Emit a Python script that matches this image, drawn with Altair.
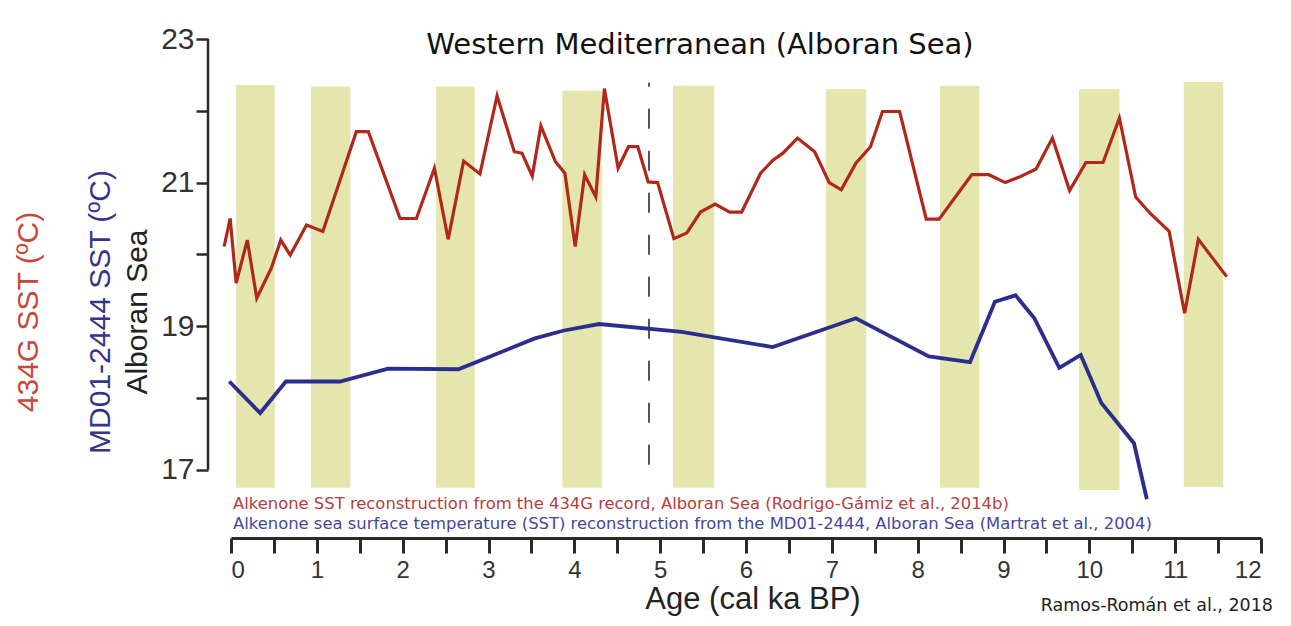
import altair as alt
import pandas as pd

# ---- data ----
red_age = [-0.08, -0.01, 0.06, 0.19, 0.30, 0.47, 0.58, 0.69, 0.88, 1.07, 1.46, 1.60, 1.97, 2.16,
           2.37, 2.53, 2.71, 2.90, 3.10, 3.30, 3.39, 3.51, 3.61, 3.78, 3.89, 4.01, 4.12, 4.25,
           4.35, 4.51, 4.63, 4.74, 4.86, 4.97, 5.16, 5.31, 5.47, 5.64, 5.81, 5.95, 6.17, 6.31,
           6.43, 6.60, 6.80, 6.97, 7.11, 7.28, 7.45, 7.59, 7.79, 8.10, 8.25, 8.63, 8.83, 9.02,
           9.19, 9.38, 9.57, 9.77, 9.96, 10.16, 10.35, 10.54, 10.71, 10.93, 11.11, 11.27, 11.60]
red_sst = [20.11, 20.50, 19.60, 20.20, 19.39, 19.81, 20.20, 19.99, 20.41, 20.32, 21.71, 21.71, 20.50, 20.50,
           21.20, 20.21, 21.30, 21.12, 22.21, 21.43, 21.41, 21.09, 21.79, 21.29, 21.13, 20.11, 21.11, 20.80,
           22.31, 21.20, 21.50, 21.50, 21.01, 21.00, 20.22, 20.30, 20.59, 20.70, 20.59, 20.59, 21.13, 21.31,
           21.41, 21.62, 21.43, 21.00, 20.90, 21.27, 21.50, 21.99, 21.99, 20.49, 20.49, 21.11, 21.11, 21.00,
           21.08, 21.19, 21.62, 20.89, 21.28, 21.28, 21.90, 20.80, 20.57, 20.32, 19.18, 20.21, 19.69]

blue_age = [-0.02, 0.34, 0.64, 1.27, 1.83, 2.65, 3.54, 3.88, 4.29, 5.25, 6.31, 7.28, 8.13, 8.61,
            8.90, 9.14, 9.36, 9.65, 9.90, 10.14, 10.52, 10.67]
blue_sst = [18.23, 17.79, 18.23, 18.23, 18.41, 18.40, 18.83, 18.94, 19.03, 18.92, 18.71, 19.11, 18.58, 18.50,
            19.34, 19.43, 19.11, 18.42, 18.60, 17.93, 17.37, 16.59]

band_start = [0.06, 0.93, 2.39, 3.86, 5.15, 6.93, 8.26, 9.88, 11.10]
band_end = [0.51, 1.39, 2.84, 4.32, 5.63, 7.40, 8.72, 10.35, 11.56]
band_top = [22.36, 22.34, 22.34, 22.28, 22.35, 22.30, 22.35, 22.30, 22.40]
band_bottom = [16.75, 16.75, 16.75, 16.75, 16.75, 16.75, 16.75, 16.72, 16.76]

dash_age = [4.87]
dash_top = [22.39]
dash_bottom = [17.07]

x_ticks = [i * 0.5 for i in range(25)]
y_ticks = [17, 18, 19, 20, 21, 22, 23]

title_text = "Western Mediterranean (Alboran Sea)"
x_title = "Age (cal ka BP)"
red_label = "434G SST (ºC)"
blue_label = "MD01-2444 SST (ºC)"
site_label = "Alboran Sea"
red_legend = "Alkenone SST reconstruction from the 434G record, Alboran Sea (Rodrigo-Gámiz et al., 2014b)"
blue_legend = "Alkenone sea surface temperature (SST) reconstruction from the MD01-2444, Alboran Sea (Martrat et al., 2004)"
credit = "Ramos-Román et al., 2018"

# ---- tables ----
red_df = pd.DataFrame({"age": red_age, "sst": red_sst})
blue_df = pd.DataFrame({"age": blue_age, "sst": blue_sst})
band_df = pd.DataFrame({"age": band_start, "age2": band_end, "sst": band_bottom, "sst2": band_top})
dash_df = pd.DataFrame({"age": dash_age, "sst": dash_bottom, "sst2": dash_top})

AX = "#2a2a2a"
xs = alt.Scale(domain=[0, 12], nice=False, zero=False)
ys = alt.Scale(domain=[16.05, 23], nice=False, zero=False)
xaxis = alt.Axis(values=x_ticks, title=None, grid=False, domainColor=AX, domainWidth=3,
                 tickColor=AX, tickWidth=3, tickSize=15, labelFont="Liberation Sans",
                 labelFontSize=24, labelColor="#333", labelPadding=5,
                 labelExpr="datum.value % 1 == 0 ? format(datum.value, 'd') : ''")
yaxis = alt.Axis(values=y_ticks, title=None, grid=False, domain=False, offset=23,
                 tickColor=AX, tickWidth=2.5, tickSize=12, labelFont="Liberation Sans",
                 labelFontSize=30, labelColor="#333", labelPadding=2,
                 labelExpr="datum.value % 2 == 1 ? format(datum.value, 'd') : ''")

X = lambda f: alt.X(f, type="quantitative", scale=xs, axis=xaxis)
Y = lambda f: alt.Y(f, type="quantitative", scale=ys, axis=yaxis)

bands = alt.Chart(band_df).mark_rect(color="#e4e6ae").encode(
    x=X("age"), x2="age2", y=Y("sst"), y2="sst2")

dash = alt.Chart(dash_df).mark_rule(color="#555", strokeWidth=2, strokeDash=[20, 22]).encode(
    x=X("age"), y=Y("sst"), y2="sst2")

red = alt.Chart(red_df).mark_line(color="#b0281a", strokeWidth=3.2, strokeJoin="miter").encode(
    x=X("age"), y=Y("sst"), order="age")

blue = alt.Chart(blue_df).mark_line(color="#2c2e8e", strokeWidth=3.8).encode(
    x=X("age"), y=Y("sst"), order="age")

yline = alt.Chart(pd.DataFrame({"a": [0]})).mark_rule(color=AX, strokeWidth=2.5).encode(
    x=alt.value(-23), y=alt.datum(17, scale=ys), y2=alt.datum(23))

def txt(text, x, y, size, color, font="Liberation Sans", angle=0, align="center", weight="normal"):
    kw = dict(text=text, fontSize=size, color=color, font=font, align=align,
              baseline="middle", fontWeight=weight)
    if angle:
        kw["angle"] = angle
    return alt.Chart(pd.DataFrame({"a": [0]})).mark_text(**kw).encode(
        x=alt.value(x), y=alt.value(y))

texts = [
    txt(title_text, 469, 6, 29, "#111", font="DejaVu Sans"),
    txt(red_label, -202, 273, 30, "#c64838", angle=270),
    txt(blue_label, -130, 273, 30, "#35358a", angle=270),
    txt(site_label, -93, 273, 30, "#222", angle=270),
    txt(red_legend, 2, 465, 16.4, "#b5403c", font="DejaVu Sans", align="left"),
    txt(blue_legend, 2, 485, 16.4, "#4646a0", font="DejaVu Sans", align="left"),
    txt(x_title, 522, 561, 31, "#222"),
    txt(credit, 1042, 567, 17.5, "#222", font="DejaVu Sans", align="right"),
]

chart = alt.layer(bands, dash, red, blue, yline, *texts).properties(
    width=1030, height=499,
    autosize=alt.AutoSizeParams(type="none"),
    padding={"left": 223, "top": 31, "right": 22, "bottom": 80},
    background="white",
).configure_view(stroke=None)

chart.save("out.html", embed_options={"renderer": "svg", "actions": False})
